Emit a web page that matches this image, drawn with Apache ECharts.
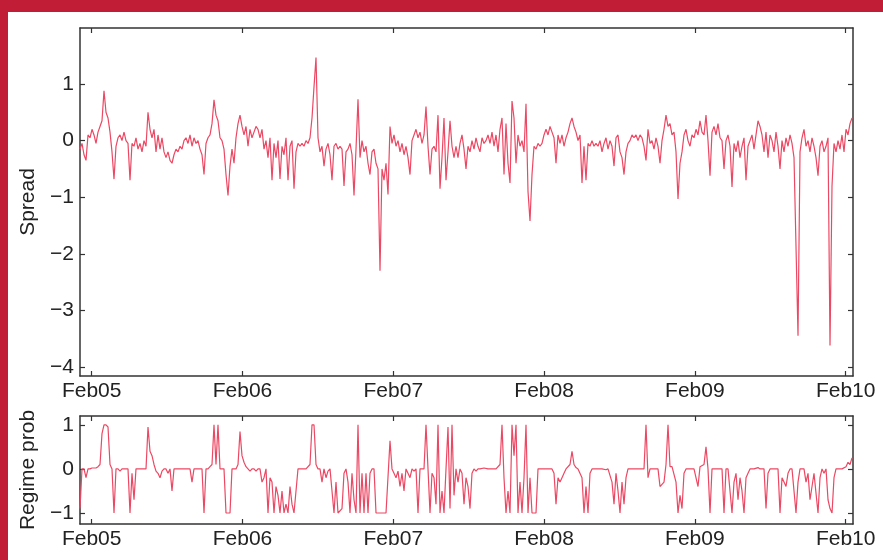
<!DOCTYPE html>
<html>
<head>
<meta charset="utf-8">
<script src="https://cdn.jsdelivr.net/npm/echarts@6/dist/echarts.min.js"></script>
<style>
  html, body { margin: 0; padding: 0; background: #fff; }
  #main { width: 883px; height: 560px; }
</style>
</head>
<body>
<div id="main"></div>
<script>
// Sampling: years since Feb 2005, one reading every stepYear
const startYear = -0.0776
const stepYear = 0.013263

// tick labels
const xTickValues = [0, 1, 2, 3, 4, 5]
const xTickLabels = ['Feb05', 'Feb06', 'Feb07', 'Feb08', 'Feb09', 'Feb10']
const spreadTicks = [-4, -3, -2, -1, 0, 1]
const regimeTicks = [-1, 0, 1]

// spread values
const spread = [
  -0.15, -0.05, -0.25, -0.35, 0.1, 0.05, 0.2, 0.1, -0.05, 0.15,
  0.25, 0.35, 0.88, 0.5, 0.4, 0.15, -0.2, -0.68, -0.1, 0.05,
  0.1, 0, 0.15, 0, -0.05, -0.7, -0.05, -0.1, 0.05, -0.15,
  -0.05, -0.2, 0, -0.1, 0.5, 0.2, 0.05, 0.2, -0.2, 0.1,
  -0.15, 0.05, -0.2, -0.3, -0.2, -0.35, -0.4, -0.25, -0.15, -0.2,
  -0.1, -0.15, 0, 0.05, -0.05, 0.1, -0.1, 0.05, -0.05, 0,
  -0.15, -0.25, -0.6, -0.05, 0.05, 0.1, 0.3, 0.72, 0.45, 0.35,
  0.05, 0, -0.15, -0.6, -0.97, -0.45, -0.15, -0.4, 0.05, 0.3,
  0.45, 0.25, 0.1, 0.25, -0.1, 0.2, 0.05, 0.15, 0.25, 0.2,
  0.05, 0.2, -0.15, 0, -0.3, 0.05, -0.7, -0.05, -0.3, 0,
  -0.68, -0.1, -0.25, 0.05, -0.7, -0.1, 0, -0.85, -0.2, -0.05,
  -0.1, -0.05, -0.1, 0, -0.05, 0.05, 0.4, 0.95, 1.47, 0.05,
  -0.2, -0.1, -0.45, -0.15, -0.05, -0.25, -0.7, -0.1, -0.05, -0.15,
  -0.1, -0.15, -0.8, -0.2, -0.15, -0.05, -0.25, -0.97, -0.15, 0.73,
  -0.3, 0, -0.2, -0.1, -0.4, -0.6, -0.2, -0.15, -0.4, -0.5,
  -2.3, -0.5, -0.7, -0.4, -0.95, 0.25, -0.05, 0.1, -0.1, 0,
  -0.2, -0.05, -0.25, -0.1, -0.3, -0.6, 0, 0.1, 0.2, 0.05,
  0.15, -0.05, 0.1, 0.6, -0.1, -0.6, -0.15, -0.1, -0.2, 0.45,
  -0.85, -0.3, 0.4, -0.7, -0.2, 0.35, -0.1, -0.3, -0.1, -0.3,
  -0.05, 0.1, -0.15, -0.5, -0.1, -0.2, 0, -0.15, 0.05, -0.1,
  -0.2, 0.05, -0.05, 0, 0.1, -0.05, 0.15, -0.1, 0.1, -0.2,
  0.2, 0.4, -0.6, 0.3, -0.4, -0.75, 0.7, 0.4, -0.4, 0.1,
  -0.1, 0, -0.2, 0.65, -0.9, -1.42, -0.6, -0.1, -0.15, -0.05,
  -0.1, -0.05, 0.1, 0.2, 0.1, 0.25, 0.15, 0.05, -0.4, 0.1,
  -0.05, 0.1, -0.1, 0.05, 0.15, 0.3, 0.4, 0.25, 0.15, 0,
  0.1, -0.75, -0.1, -0.7, -0.05, -0.1, 0, -0.1, -0.05, -0.1,
  0, -0.2, -0.05, 0.05, -0.15, 0, -0.1, -0.45, 0.05, 0.1,
  -0.2, -0.3, -0.6, -0.2, -0.05, 0, 0.1, 0.05, 0.1, 0,
  0.1, 0.05, -0.1, -0.35, 0.2, -0.05, 0, -0.15, 0.05, -0.1,
  -0.4, 0, 0.2, 0.45, 0.25, 0.3, 0.1, 0.15, -0.2, -1.03,
  -0.4, -0.2, 0.1, 0.2, 0, -0.1, 0.1, 0.05, 0.2, 0.1,
  0.35, 0.15, 0.1, 0.45, 0, -0.62, 0.15, 0.25, 0.1, 0.3,
  0.05, 0, -0.5, 0, 0.1, -0.1, -0.82, -0.05, -0.2, 0,
  -0.3, -0.1, 0.05, -0.7, -0.1, 0, 0.1, -0.15, 0.1, 0.35,
  0.25, 0.1, -0.2, 0.15, -0.3, 0.1, 0, -0.2, 0.15, -0.1,
  -0.5, 0, -0.2, 0.05, -0.1, 0.1, -0.05, -0.3, -0.3, -3.45,
  -0.2, 0.05, 0.2, -0.1, 0, -0.2, 0.05, -0.1, -0.3, -0.62,
  -0.1, 0, -0.2, -0.1, 0.05, -3.62, -0.8, -0.05, -0.2, 0,
  -0.15, 0.1, -0.2, 0.2, 0.1, 0.3, 0.4
]

// regime probability values
const regime = [
  -0.9, 0, 0, -0.2, 0, 0, 0.02, 0.02, 0.02, 0.05,
  0.1, 0.8, 1, 1, 0.95, 0.1, 0, -1, 0, 0,
  -0.05, 0, 0, 0, 0, -1, -0.1, -0.7, 0, 0,
  0, 0, 0, 0, 0.95, 0.4, 0.3, 0.1, -0.05, -0.1,
  -0.2, -0.05, 0, 0, -0.1, 0, -0.5, 0, 0, 0,
  0, 0, 0, 0, 0, 0, -0.3, 0, 0, 0,
  0, 0, -1, 0, 0, 0.05, 0.1, 1, 0.1, 1,
  0, 0, 0, -1, -1, -1, 0, 0, 0, 0.1,
  0.85, 0.3, 0.15, 0.05, 0, -0.05, 0, 0, -0.05, 0,
  0, -0.3, -0.2, 0, -1, -0.2, -0.3, -1, -0.4, -0.6,
  -1, -0.5, -1, -0.8, -1, -0.4, -0.8, -1, -0.5, 0,
  0, 0, 0, 0, 0, 0.1, 1, 1, 0.1, 0,
  0, -0.3, 0, -0.2, -0.05, 0, -0.5, -1, -0.3, -1,
  -1, -0.9, -0.1, 0, -0.3, -1, -0.1, -0.7, -1, 1,
  -1, -0.1, -1, -0.1, -1, -0.1, 0, 0, -1, -1,
  -1, -1, -1, -1, -1, 0.64, 0, -0.1, -0.2, -0.05,
  -0.4, -0.1, -0.5, 0, -0.1, -0.2, 0, -0.05, 0, -1,
  0, 0, 0, 1, 0, -1, -0.1, -0.2, -0.8, 1,
  -1, -0.5, -1, 0, 0.95, -0.9, 1, -0.6, 0, -0.3,
  0, -0.1, -0.8, -0.2, -0.4, -0.9, -0.1, 0, -0.05, 0,
  0, 0, 0.02, 0, 0, 0, 0.02, 0, 0, 0.03,
  0.1, 1, -0.2, -1, -0.5, -1, 1, 0.3, 1, -1,
  -0.3, -1, -0.2, 1, -1, -0.2, -1, -1, -1, 0,
  0, 0, 0, 0, 0, 0, 0, -0.1, -0.8, -0.2,
  -0.3, -0.2, -0.1, 0, 0, 0.1, 0.4, 0.1, 0.03, 0,
  0, -0.2, -1, -0.4, -1, -0.1, 0, 0, 0, 0,
  0, 0, 0, -0.02, 0, 0, -0.3, -0.8, -0.1, -0.5,
  -1, -0.3, -0.8, -0.2, 0, 0, 0, 0, 0, 0,
  0, 0, 0, 1, -0.2, 0, 0, 0, 0, 0,
  -0.4, -0.35, -0.3, 0.1, 1, 0.05, 0.05, 0.02, -0.3, -1,
  -0.6, -0.9, -0.1, 0, 0, 0, 0, 0, 0, -0.4,
  0.05, 0.05, 0.1, 0.5, 0, -1, 0, 0, 0, 0,
  0, 0, -1, 0, 0, 0, -1, -0.3, -0.1, -0.7,
  -0.2, -0.5, -1, -0.2, -0.1, 0, 0, 0, 0, 0.03,
  0, 0, 0, -0.9, -0.1, 0, 0, 0, 0, 0,
  -1, -0.2, -0.3, -0.4, -0.1, 0, 0, 0, -1, -0.3,
  0, 0, 0, -0.3, -0.1, -0.7, -0.4, -0.1, -0.1, -1,
  -0.2, 0, -0.1, 0, -0.7, -0.9, -1, -0.2, 0, 0,
  0, 0, 0, 0.05, 0.15, 0.1, 0.25
]

const toPoints = (vals) => vals.map((v, i) => [startYear + i * stepYear, v])

const xMin = -0.0776
const xMax = 5.0485
const font = 'Liberation Sans, Arial, Helvetica, sans-serif'
const lineColor = '#ec4863'
const axisColor = '#333'
const minus = (v) => String(v).replace('-', '\u2212')

// one x axis of the box (bottom carries labels, top only ticks)
const makeX = (gridIndex, position, labels) => ({
  type: 'value',
  gridIndex: gridIndex,
  position: position,
  min: xMin,
  max: xMax,
  axisLine: { show: true, onZero: false, lineStyle: { color: axisColor, width: 1.5 } },
  axisTick: { show: true, inside: true, length: 5, customValues: xTickValues, lineStyle: { color: axisColor, width: 1.2 } },
  axisLabel: {
    show: labels,
    customValues: xTickValues,
    margin: 5,
    fontSize: 21,
    fontFamily: font,
    color: '#222',
    formatter: (v) => xTickLabels[xTickValues.indexOf(Math.round(v))]
  },
  splitLine: { show: false }
})

// one y axis of the box (left carries labels and name)
const makeY = (gridIndex, position, min, max, ticks, name) => ({
  type: 'value',
  gridIndex: gridIndex,
  position: position,
  min: min,
  max: max,
  name: name || '',
  nameLocation: 'middle',
  nameGap: 38,
  nameTextStyle: { fontSize: 21, fontFamily: font, color: '#222' },
  axisLine: { show: true, onZero: false, lineStyle: { color: axisColor, width: 1.5 } },
  axisTick: { show: true, inside: true, length: 5, customValues: ticks, lineStyle: { color: axisColor, width: 1.2 } },
  axisLabel: {
    show: !!name,
    customValues: ticks,
    margin: 6,
    fontSize: 21,
    fontFamily: font,
    color: '#222',
    formatter: minus
  },
  splitLine: { show: false }
})

const option = {
  animation: false,
  backgroundColor: '#fff',
  graphic: [
    { type: 'rect', shape: { x: 0, y: 0, width: 883, height: 12 }, style: { fill: '#c21d37' } },
    { type: 'rect', shape: { x: 0, y: 0, width: 8, height: 560 }, style: { fill: '#c21d37' } }
  ],
  grid: [
    { left: 80, right: 30, top: 28, height: 348 },
    { left: 80, right: 30, top: 416, height: 108 }
  ],
  xAxis: [
    makeX(0, 'bottom', true),
    makeX(0, 'top', false),
    makeX(1, 'bottom', true),
    makeX(1, 'top', false)
  ],
  yAxis: [
    makeY(0, 'left', -4.16, 1.99, spreadTicks, 'Spread'),
    makeY(0, 'right', -4.16, 1.99, spreadTicks),
    makeY(1, 'left', -1.25, 1.2, regimeTicks, 'Regime prob'),
    makeY(1, 'right', -1.25, 1.2, regimeTicks)
  ],
  series: [
    {
      name: 'Spread',
      type: 'line',
      xAxisIndex: 0,
      yAxisIndex: 0,
      showSymbol: false,
      lineStyle: { color: lineColor, width: 1.2 },
      data: toPoints(spread)
    },
    {
      name: 'Regime prob',
      type: 'line',
      xAxisIndex: 2,
      yAxisIndex: 2,
      showSymbol: false,
      lineStyle: { color: lineColor, width: 1.2 },
      data: toPoints(regime)
    }
  ]
}

var myChart = echarts.init(document.getElementById('main'))
myChart.setOption(option)
</script>
</body>
</html>
